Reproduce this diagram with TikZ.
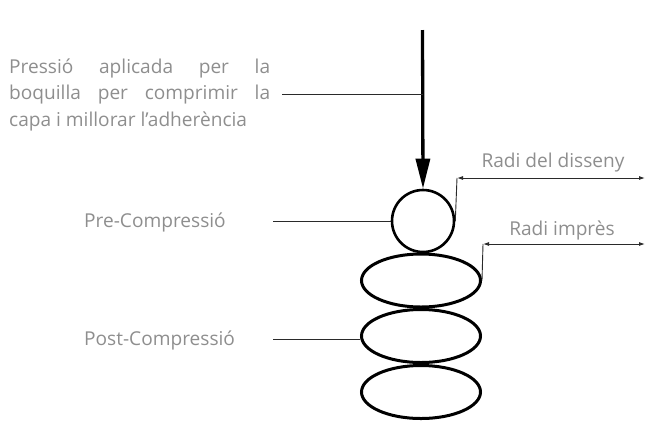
\documentclass[tikz,border=0pt]{standalone}
\usepackage{fontspec}
\setmainfont{Open Sans}
\usetikzlibrary{arrows.meta,shapes.geometric}
\definecolor{lbl}{HTML}{8E8E8E}
\definecolor{ln}{HTML}{2A2A2A}
\begin{document}
\begin{tikzpicture}[x=1pt,y=-1pt,
  lbltext/.style={text=lbl, font=\fontsize{19.1}{22}\selectfont, inner sep=0pt},
  bead/.style={ellipse, draw=black, line width=3pt, minimum width=119pt, minimum height=53pt, inner sep=0pt},
  leader/.style={draw=ln, line width=0.9pt},
  dimline/.style={draw=ln, line width=0.9pt, {Latex[length=6pt,width=4pt]}-{Latex[length=6pt,width=4pt]}}]
\useasboundingbox (0,0) rectangle (645,421);
% shapes
\node[circle, draw=black, line width=2.6pt, minimum size=62pt, inner sep=0pt] (pre) at (423,221) {};
\node[bead] (b1) at (421,280.5) {};
\node[bead] (b2) at (421,336) {};
\node[bead] (b3) at (421,392) {};
% main arrow
\coordinate (top) at (422.5,30);
\draw[line width=3.3pt, -{Triangle[length=30pt,width=14pt]}] (top) -- (pre.north);
% pressure text
\node[lbltext, anchor=base west] (p1) at (9,73) {\makebox[261pt][s]{Pressió aplicada per la}};
\node[lbltext, anchor=base west] (p2) at (9,99.5) {\makebox[261pt][s]{boquilla per comprimir la}};
\node[lbltext, anchor=base west] (p3) at (9,126) {capa i millorar l’adherència};
\coordinate (pl) at (282,94);
\draw[leader] (pl) -- (top |- pl);
% pre / post labels
\node[lbltext, anchor=west] (prel) at (84,222) {Pre-Compressió};
\coordinate (prec) at (273,221);
\draw[leader] (prec) -- (pre.west);
\node[lbltext, anchor=west] (postl) at (84,340) {Post-Compressió};
\coordinate (postc) at (273,339);
\draw[leader] (postc) -- (postc -| b2.west);
% radi del disseny
\coordinate (r1a) at (457,178);
\coordinate (r1b) at (645,178);
\draw[leader] (pre.east) -- (r1a);
\draw[dimline] (r1a) -- (r1b);
\node[lbltext] (rd) at (553,163) {Radi del disseny};
% radi imprès
\coordinate (r2a) at (483,244);
\coordinate (r2b) at (645,244);
\draw[leader] (b1.east) -- (r2a);
\draw[dimline] (r2a) -- (r2b);
\node[lbltext] (ri) at (562,230) {Radi imprès};
\end{tikzpicture}
\end{document}
